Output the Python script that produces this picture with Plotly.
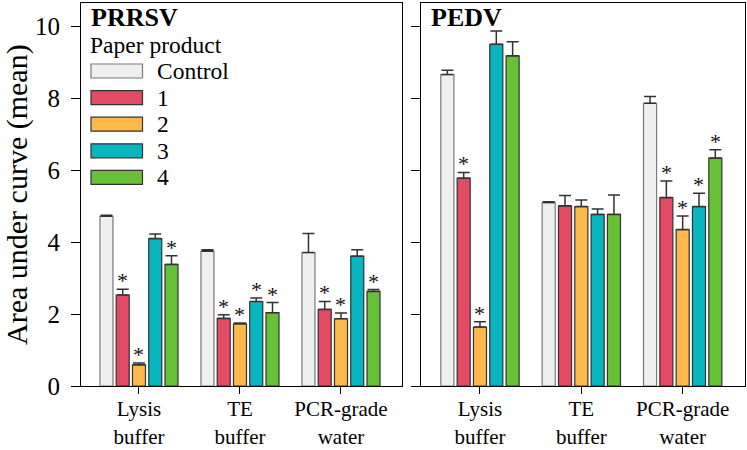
import plotly.graph_objects as go

categories = ["Lysis<br>buffer", "TE<br>buffer", "PCR-grade<br>water"]
series_names = ["Control", "1", "2", "3", "4"]
colors = ["#efefef", "#e34a64", "#fdb94a", "#09b5bf", "#66c136"]
outline = ["#7a7a7a", "#333333", "#333333", "#333333", "#333333"]

# PRRSV: values per series (Lysis, TE, PCR)
prrsv_mean = [
    [4.72, 3.75, 3.71],
    [2.53, 1.88, 2.13],
    [0.59, 1.73, 1.87],
    [4.10, 2.35, 3.61],
    [3.38, 2.04, 2.63],
]
prrsv_err = [
    [0.03, 0.04, 0.53],
    [0.16, 0.10, 0.22],
    [0.05, 0.02, 0.16],
    [0.13, 0.10, 0.18],
    [0.24, 0.28, 0.05],
]
prrsv_sig = [
    [0, 0, 0],
    [1, 1, 1],
    [1, 1, 1],
    [0, 1, 0],
    [1, 1, 1],
]

# PEDV
pedv_mean = [
    [8.66, 5.10, 7.86],
    [5.78, 5.01, 5.24],
    [1.64, 4.99, 4.35],
    [9.50, 4.77, 4.99],
    [9.18, 4.77, 6.34],
]
pedv_err = [
    [0.12, 0.02, 0.19],
    [0.16, 0.29, 0.46],
    [0.15, 0.18, 0.38],
    [0.37, 0.15, 0.37],
    [0.39, 0.54, 0.23],
]
pedv_sig = [
    [0, 0, 0],
    [1, 0, 1],
    [1, 0, 1],
    [0, 0, 1],
    [0, 0, 1],
]

panel_titles = ["PRRSV", "PEDV"]
legend_title = "Paper product"
y_title = "Area under curve (mean)"
y_ticks = [0, 2, 4, 6, 8, 10]

FONT = "Liberation Serif"
BARGAP = 0.195
BARGROUPGAP = 0.2

W, H = 747, 450
ML, MR, MT, MB = 81, 2, 3, 64
PW = W - ML - MR
PH = H - MT - MB


def px_x(p):
    return (p - ML) / PW


def px_y(p):
    return (H - MB - p) / PH


fig = go.Figure()

panels = [(prrsv_mean, prrsv_err, prrsv_sig, "x", "y"),
          (pedv_mean, pedv_err, pedv_sig, "x2", "y2")]

annotations = []
slot = (1 - BARGAP) / len(series_names)
for means, errs, sigs, xa, ya in panels:
    for si, name in enumerate(series_names):
        fig.add_trace(go.Bar(
            x=list(range(len(categories))),
            y=means[si],
            name=name,
            xaxis=xa, yaxis=ya,
            marker=dict(color=colors[si], line=dict(color=outline[si], width=1.2)),
            error_y=dict(type="data", symmetric=False, array=errs[si],
                         arrayminus=[0] * len(categories),
                         color="#333333", thickness=1.5, width=6),
            showlegend=False,
        ))
        for ci in range(len(categories)):
            if sigs[si][ci]:
                annotations.append(dict(
                    x=ci + (si - 2) * slot, y=means[si][ci] + errs[si][ci],
                    xref=xa, yref=ya, text="*", showarrow=False,
                    xanchor="center", yanchor="bottom", yshift=-6,
                    font=dict(family=FONT, size=22, color="#111111"),
                ))

# panel titles
annotations.append(dict(x=px_x(89), y=px_y(1), xref="paper", yref="paper",
                        text="<b>%s</b>" % panel_titles[0], showarrow=False,
                        xanchor="left", yanchor="top",
                        font=dict(family=FONT, size=26, color="black")))
annotations.append(dict(x=px_x(429), y=px_y(1), xref="paper", yref="paper",
                        text="<b>%s</b>" % panel_titles[1], showarrow=False,
                        xanchor="left", yanchor="top",
                        font=dict(family=FONT, size=26, color="black")))

# legend (manual, wide swatches)
annotations.append(dict(x=px_x(88), y=px_y(45), xref="paper", yref="paper",
                        text=legend_title, showarrow=False,
                        xanchor="left", yanchor="middle",
                        font=dict(family=FONT, size=23.5, color="black")))
shapes = []
leg_y0 = 71
leg_dy = 26.6
for si, name in enumerate(series_names):
    cy = leg_y0 + si * leg_dy
    shapes.append(dict(type="rect", xref="paper", yref="paper",
                       x0=px_x(91), x1=px_x(142.5), y0=px_y(cy - 7), y1=px_y(cy + 7),
                       fillcolor=colors[si], line=dict(color=outline[si], width=1.2)))
    annotations.append(dict(x=px_x(155), y=px_y(cy), xref="paper", yref="paper",
                            text=name, showarrow=False, xanchor="left", yanchor="middle",
                            font=dict(family=FONT, size=23.5, color="black")))

# y-axis title
annotations.append(dict(x=px_x(17), y=px_y(195), xref="paper", yref="paper",
                        text=y_title, showarrow=False, textangle=-90,
                        xanchor="center", yanchor="middle",
                        font=dict(family=FONT, size=30, color="black")))

axis_common = dict(showline=True, linecolor="black", linewidth=1.2, mirror=True,
                   showgrid=False, zeroline=False, ticks="outside",
                   tickcolor="black", tickwidth=1.2, automargin=False)

fig.update_layout(
    width=W, height=H,
    margin=dict(l=ML, r=MR, t=MT, b=MB, autoexpand=False),
    paper_bgcolor="white", plot_bgcolor="white",
    barmode="group", bargap=BARGAP, bargroupgap=BARGROUPGAP,
    font=dict(family=FONT, color="black"),
    xaxis=dict(domain=[0, px_x(402)], range=[-0.574, 2.604],
               tickvals=list(range(len(categories))), ticktext=categories,
               ticklen=7, ticklabelstandoff=-3,
               tickfont=dict(family=FONT, size=21), **axis_common),
    xaxis2=dict(domain=[px_x(421), 1], range=[-0.582, 2.615], anchor="y2",
                tickvals=list(range(len(categories))), ticktext=categories,
                ticklen=7, ticklabelstandoff=-3,
                tickfont=dict(family=FONT, size=21), **axis_common),
    yaxis=dict(range=[0, 10.65], tickvals=y_ticks, ticklen=9,
               ticklabelstandoff=6,
               tickfont=dict(family=FONT, size=25), **axis_common),
    yaxis2=dict(range=[0, 10.65], tickvals=y_ticks, ticklen=9, showticklabels=False,
                anchor="x2", **axis_common),
    annotations=annotations,
    shapes=shapes,
)

fig.write_html("out.html")
